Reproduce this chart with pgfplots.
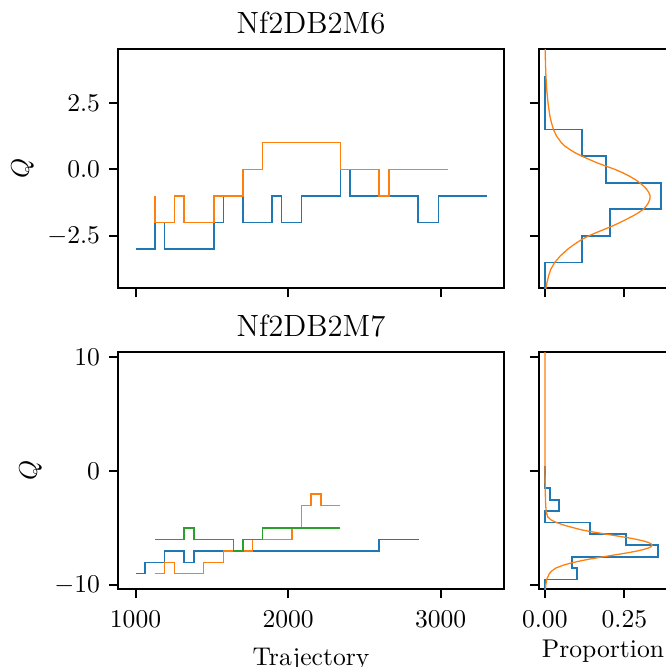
\documentclass[border=0pt]{standalone}
\usepackage{pgfplots}
\pgfplotsset{compat=1.18}
\definecolor{c0}{HTML}{1F77B4}
\definecolor{c1}{HTML}{FF7F0E}
\definecolor{c2}{HTML}{2CA02C}
\pgfplotsset{
  common/.style={
    scale only axis,
    axis line style={line width=0.8pt},
    tick style={line width=0.8pt, black},
    major tick length=3.5pt,
    tick align=outside,
    tick pos=left,
    scaled ticks=false,
    xticklabel style={yshift=-1.5pt},
    title style={at={(axis description cs:0.5,1)}, anchor=base, font=\large, inner sep=0pt},
    every axis plot/.append style={line width=0.6pt, mark=none},
  },
}
\begin{document}
\begin{tikzpicture}
\path[use as bounding box, clip] (0,0) rectangle (260.14pt,-260.53pt);
% ---------------- top-left
\begin{axis}[common, at={(46.09pt,-112.61pt)}, anchor=south west,
  width=150.77pt, height=93.35pt,
  xmin=885, xmax=3415, ymin=-4.47, ymax=4.51,
  xtick={1000,2000,3000}, xticklabels={},
  ytick={-2.5,0,2.5}, yticklabels={$-2.5$,$0.0$,$2.5$},
  title={Nf2DB2M6},
  ylabel={$Q$}, ylabel style={at={(axis description cs:-0.2474,0.5)}, anchor=center}]
\addplot[c0, const plot] coordinates {(1000,-3) (1127,-2) (1190,-3) (1514,-2) (1578,-1) (1705,-2) (1895,-1) (1958,-2) (2087,-1) (2343,0) (2407,-1) (2853,-2) (2987,-1) (3302,-1)};
\addplot[c1, const plot] coordinates {(1127,-1) (1127,-2) (1254,-1) (1317,-2) (1514,-1) (1705,0) (1831,1) (2343,0) (2597,-1) (2663,0) (3050,0)};
\end{axis}
% ---------------- top-right
\begin{axis}[common, at={(210.53pt,-112.61pt)}, anchor=south west,
  width=50pt, height=93.35pt,
  xmin=-0.0183, xmax=0.384, ymin=-4.47, ymax=4.51,
  xtick={0,0.25}, xticklabels={},
  ytick={-2.5,0,2.5}, yticklabels={}]
\addplot[c0, line width=0.7pt] coordinates {(0,3.5) (0,1.5) (0.118,1.5) (0.118,0.5) (0.192,0.5) (0.192,-0.5) (0.366,-0.5) (0.366,-1.5) (0.205,-1.5) (0.205,-2.5) (0.118,-2.5) (0.118,-3.5) (0,-3.5) (0,-4.6)};
\addplot[c1, line width=0.5pt] coordinates {(0.001,4.6) (0.002,4.0) (0.0035,3.5) (0.006,3.0) (0.010,2.5) (0.016,2.0) (0.021,1.75) (0.027,1.5) (0.037,1.25) (0.052,1.0) (0.063,0.875) (0.078,0.75) (0.095,0.625) (0.116,0.5) (0.139,0.375) (0.163,0.25) (0.191,0.125) (0.220,0.0) (0.244,-0.125) (0.265,-0.25) (0.283,-0.375) (0.298,-0.5) (0.310,-0.625) (0.320,-0.75) (0.327,-0.875) (0.331,-1.0) (0.330,-1.125) (0.326,-1.25) (0.319,-1.375) (0.310,-1.5) (0.295,-1.625) (0.277,-1.75) (0.257,-1.875) (0.236,-2.0) (0.213,-2.125) (0.188,-2.25) (0.162,-2.375) (0.138,-2.5) (0.118,-2.625) (0.101,-2.75) (0.086,-2.875) (0.072,-3.0) (0.049,-3.25) (0.031,-3.5) (0.019,-3.75) (0.012,-4.0) (0.007,-4.25) (0.003,-4.5) (0.002,-4.6)};
\end{axis}
% ---------------- bottom-left
\begin{axis}[common, at={(46.09pt,-230.18pt)}, anchor=south west,
  width=150.77pt, height=92.69pt,
  xmin=885, xmax=3415, ymin=-10.37, ymax=10.47,
  xtick={1000,2000,3000}, xticklabels={$1000$,$2000$,$3000$},
  ytick={-10,0,10}, yticklabels={$-10$,$0$,$10$},
  title={Nf2DB2M7},
  xlabel={Trajectory}, xlabel style={at={(axis description cs:0.5,0)}, anchor=base, yshift=-29.6pt},
  ylabel={$Q$}, ylabel style={at={(axis description cs:-0.2267,0.5)}, anchor=center}]
\addplot[c0, const plot] coordinates {(1000,-9) (1063,-8) (1190,-7) (1317,-8) (1383,-7) (2597,-6) (2860,-6)};
\addplot[c1, const plot] coordinates {(1127,-9) (1190,-8) (1254,-9) (1446,-8) (1578,-7) (1768,-6) (2024,-5) (2087,-3) (2151,-2) (2214,-3) (2343,-3)};
\addplot[c2, const plot] coordinates {(1127,-6) (1317,-5) (1383,-6) (1641,-7) (1705,-6) (1831,-5) (2343,-5)};
\end{axis}
% ---------------- bottom-right
\begin{axis}[common, at={(210.53pt,-230.18pt)}, anchor=south west,
  width=50pt, height=92.69pt,
  xmin=-0.0183, xmax=0.384, ymin=-10.37, ymax=10.47,
  xtick={0,0.25}, xticklabels={$0.00$,$0.25$},
  ytick={-10,0,10}, yticklabels={},
  xlabel={Proportion}, xlabel style={at={(axis description cs:0.5,0)}, anchor=base, yshift=-26.8pt}]
\addplot[c0, line width=0.7pt] coordinates {(0,0.5) (0,-1.5) (0.0156,-1.5) (0.0156,-2.5) (0.044,-2.5) (0.044,-3.5) (0,-3.5) (0,-4.5) (0.142,-4.5) (0.142,-5.5) (0.255,-5.5) (0.255,-6.5) (0.355,-6.5) (0.355,-7.5) (0.086,-7.5) (0.086,-8.5) (0.1006,-8.5) (0.1006,-9.5) (0,-9.5) (0,-10.6)};
\addplot[c1, line width=0.5pt] coordinates {(0.0003,10.6) (0.0004,6) (0.0006,2) (0.001,-1) (0.002,-2.5) (0.004,-3.5) (0.009,-4.0) (0.018,-4.25) (0.036,-4.5) (0.062,-4.75) (0.078,-4.875) (0.095,-5.0) (0.112,-5.125) (0.134,-5.25) (0.160,-5.375) (0.187,-5.5) (0.214,-5.625) (0.242,-5.75) (0.268,-5.875) (0.291,-6.0) (0.310,-6.125) (0.325,-6.25) (0.334,-6.375) (0.337,-6.5) (0.334,-6.625) (0.325,-6.75) (0.310,-6.875) (0.291,-7.0) (0.268,-7.125) (0.242,-7.25) (0.214,-7.375) (0.187,-7.5) (0.160,-7.625) (0.134,-7.75) (0.112,-7.875) (0.092,-8.0) (0.074,-8.125) (0.058,-8.25) (0.035,-8.5) (0.022,-8.75) (0.014,-9.0) (0.006,-9.5) (0.003,-10.0) (0.0015,-10.6)};
\end{axis}
\end{tikzpicture}
\end{document}
